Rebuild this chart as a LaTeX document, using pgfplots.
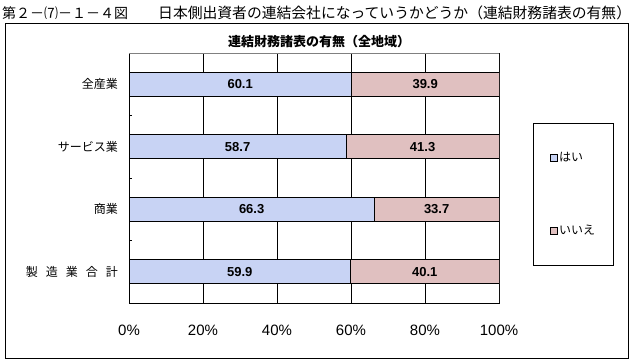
\documentclass[border=0pt]{standalone}
\usepackage{pgfplots}
\pgfplotsset{compat=1.18}
\usepackage{fontspec}
\setmainfont{Noto Sans CJK JP}
\newfontfamily\numfont{Liberation Sans}
\definecolor{barblue}{RGB}{200,211,244}
\definecolor{barpink}{RGB}{224,192,192}
\begin{document}
\begin{tikzpicture}
\path[use as bounding box] (0,0) rectangle (631pt,362pt);
\draw[line width=1pt] (5pt,4pt) rectangle (628pt,338pt);
\node[anchor=west, inner sep=0pt, font=\fontsize{14pt}{17pt}\selectfont] at (2pt,349pt) {第２－⑺－１－４図};
\node[anchor=west, inner sep=0pt, font=\fontsize{14.8pt}{17pt}\selectfont] at (158pt,349pt) {日本側出資者の連結会社になっていうかどうか（連結財務諸表の有無）};
\node[inner sep=0pt, font=\fontsize{13pt}{15pt}\selectfont\bfseries] at (319pt,320pt) {連結財務諸表の有無（全地域）};
\begin{axis}[at={(129pt,59pt)}, anchor=south west, scale only axis,
  width=370pt, height=250pt,
  xbar stacked, bar width=24pt,
  xmin=0, xmax=100, ymin=-0.5, ymax=3.5, y dir=reverse,
  ytick={0,1,2,3},
  yticklabels={全産業,サービス業,商業,製\hspace{8pt}造\hspace{8pt}業\hspace{8pt}合\hspace{8pt}計},
  minor ytick={0.5,1.5,2.5}, ytick pos=left, xtick pos=bottom,
  major tick length=0pt, minor tick length=3pt, tick align=inside,
  tick style={black, line width=0.8pt},
  xtick={0,20,40,60,80,100},
  xticklabel={\pgfmathprintnumber{\tick}\%},
  /pgf/number format/assume math mode=true,
  xticklabel style={anchor=center, yshift=-27pt, font=\numfont\fontsize{15pt}{17pt}\selectfont},
  yticklabel style={anchor=east, inner sep=0pt, xshift=-11pt, font=\fontsize{12pt}{14pt}\selectfont},
  xmajorgrids, grid style={black, line width=0.8pt},
  axis line style={black, line width=0.8pt},
  legend style={at={(axis description cs:1.201,0.434)}, anchor=center, draw=black, line width=0.8pt,
    inner xsep=16pt, inner ysep=27pt, row sep=58pt, font=\fontsize{12pt}{14pt}\selectfont, cells={anchor=west}},
  legend cell align=left,
  legend image code/.code={\draw[#1, line width=0.6pt] (0pt,-3.5pt) rectangle (7pt,3.5pt);},
]
\addplot[fill=barblue, draw=black, line width=0.8pt] coordinates {(60.1,0) (58.7,1) (66.3,2) (59.9,3)};
\addlegendentry{はい}
\addplot[fill=barpink, draw=black, line width=0.8pt] coordinates {(39.9,0) (41.3,1) (33.7,2) (40.1,3)};
\addlegendentry{いいえ}
\draw[gray, line width=0.8pt] (axis description cs:0,1) -- (axis description cs:1,1) -- (axis description cs:1,0);
\end{axis}
\begin{axis}[at={(129pt,59pt)}, anchor=south west, scale only axis,
  width=370pt, height=250pt, hide axis,
  xmin=0, xmax=100, ymin=-0.5, ymax=3.5, y dir=reverse]
\addplot[only marks, mark=none, nodes near coords, point meta=explicit symbolic,
  nodes near coords style={anchor=center, inner sep=0pt, font=\numfont\bfseries\fontsize{13pt}{15pt}\selectfont}]
  table[x=x, y=y, meta=l] {
x y l
30.05 0 60.1
80.05 0 39.9
29.35 1 58.7
79.35 1 41.3
33.15 2 66.3
83.15 2 33.7
29.95 3 59.9
79.95 3 40.1
};
\end{axis}
\end{tikzpicture}
\end{document}
